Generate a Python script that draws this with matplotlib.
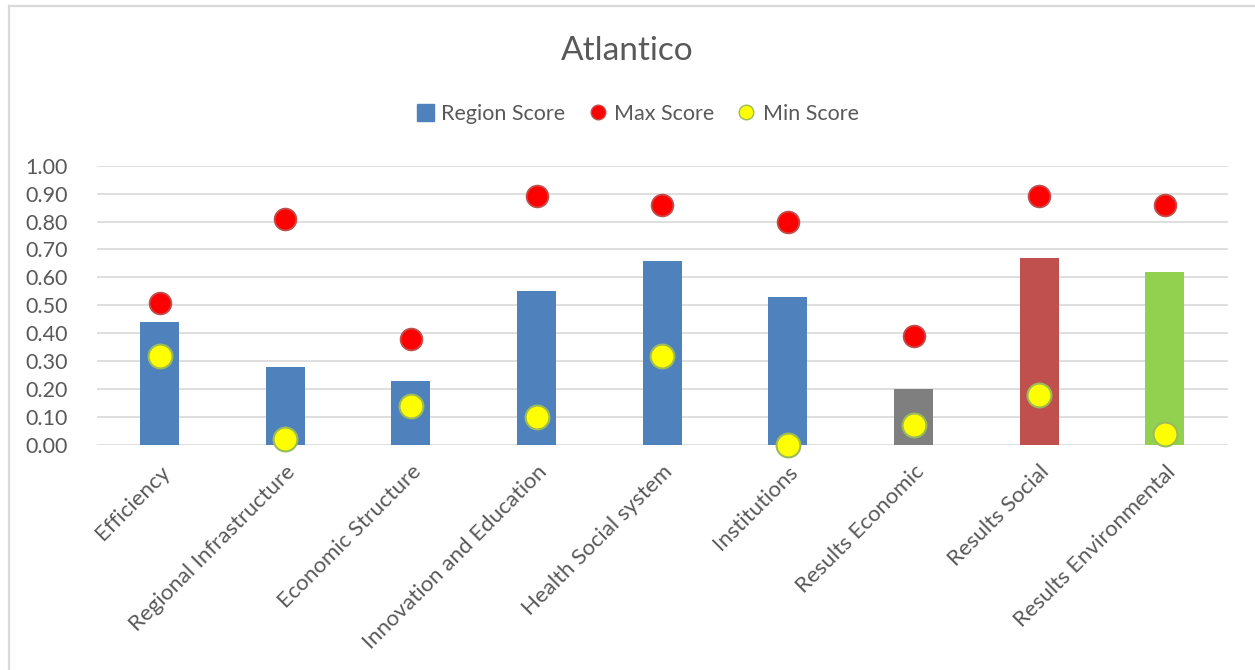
#!/usr/bin/env python
# -*- coding: utf-8 -*-

import matplotlib              as mpl
mpl.use("Agg")
import matplotlib.pyplot       as plt
import matplotlib.lines        as mlines
import matplotlib.patches      as mpatches
import numpy as np

# Pillar names and scores...
categories = [
    "Efficiency", "Regional Infrastructure", "Economic Structure",
    "Innovation and Education", "Health Social system", "Institutions",
    "Results Economic", "Results Social", "Results Environmental",
]
region_score = [0.44, 0.28, 0.23, 0.55, 0.66, 0.53, 0.20, 0.67, 0.62]
max_score    = [0.51, 0.81, 0.38, 0.89, 0.86, 0.80, 0.39, 0.89, 0.86]
min_score    = [0.32, 0.02, 0.14, 0.10, 0.32, 0.00, 0.07, 0.18, 0.04]
y_ticks      = [0.0, 0.1, 0.2, 0.3, 0.4, 0.5, 0.6, 0.7, 0.8, 0.9, 1.0]

bar_colors = ["#4F81BD"] * 6 + ["#7F7F7F", "#C0504D", "#92D050"]
txt_color  = "#595959"
grid_color = "#D9D9D9"

plt.rcParams['font.family'] = ['Lato', 'DejaVu Sans']
plt.rcParams['font.size']   = 15

fig = plt.figure(figsize = (12.55, 6.70), dpi = 100)
ax  = fig.add_axes([0.0771, 0.3358, 0.9012, 0.4169])

x = np.arange(len(categories))

# Bars, then max / min markers on top...
ax.bar(x, region_score, width = 0.31, color = bar_colors, zorder = 2)
ax.scatter(x, max_score, s = 245, color = "#FF0000", edgecolor = "#C0504D",
           linewidth = 1.3, zorder = 3)
ax.scatter(x, min_score, s = 295, color = "#FFFF00", edgecolor = "#9BBB59",
           linewidth = 1.5, zorder = 3, clip_on = False)

ax.set_xlim(-0.5, len(categories) - 0.5)
ax.set_ylim(0, 1.0)
ax.set_yticks(y_ticks)
ax.set_yticklabels([f"{v:.2f}" for v in y_ticks], color = txt_color, fontsize = 15.5)
ax.set_xticks(x)
ax.set_xticklabels(categories, rotation = 45, ha = 'right',
                   rotation_mode = 'anchor', color = txt_color, fontsize = 16)
ax.tick_params(axis = 'y', length = 0, pad = 21)
ax.tick_params(axis = 'x', length = 0, pad = 12)

ax.grid(axis = 'y', color = grid_color, linewidth = 1.2, zorder = 0)
ax.set_axisbelow(True)
for s in ax.spines.values(): s.set_visible(False)

fig.text(0.5, 1 - 51 / 670, "Atlantico", ha = 'center', va = 'center',
         fontsize = 24, color = txt_color)

# Legend...
h_bar = mpatches.Patch(color = "#4F81BD", label = "Region Score")
h_max = mlines.Line2D([], [], marker = 'o', linestyle = 'none', markersize = 10.5,
                      markerfacecolor = "#FF0000", markeredgecolor = "#C0504D",
                      label = "Max Score")
h_min = mlines.Line2D([], [], marker = 'o', linestyle = 'none', markersize = 10.5,
                      markerfacecolor = "#FFFF00", markeredgecolor = "#9BBB59",
                      label = "Min Score")
leg = fig.legend(handles = [h_bar, h_max, h_min], loc = 'center',
                 bbox_to_anchor = (0.508, 1 - 114 / 670), ncol = 3,
                 frameon = False, fontsize = 15.5, handlelength = 0.8,
                 handleheight = 0.8, handletextpad = 0.35, columnspacing = 1.1)
for t in leg.get_texts(): t.set_color(txt_color)

# Chart border (left and top edges)...
fig.add_artist(mlines.Line2D([9 / 1255, 9 / 1255], [0, 1 - 6 / 670],
                             color = grid_color, linewidth = 1.6))
fig.add_artist(mlines.Line2D([9 / 1255, 1], [1 - 6 / 670, 1 - 6 / 670],
                             color = grid_color, linewidth = 1.6))

plt.savefig("out.png", dpi = 100)
plt.close('all')
